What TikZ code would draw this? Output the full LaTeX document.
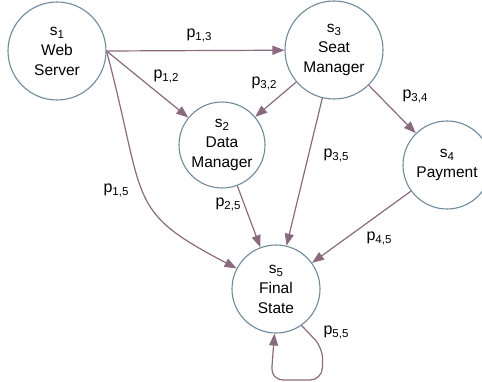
\documentclass[tikz,border=0pt]{standalone}
\usepackage{fontspec}
\setmainfont{Liberation Sans}
\usetikzlibrary{arrows.meta}
\definecolor{ring}{HTML}{6F8A9B}
\definecolor{link}{HTML}{8A6A7E}
% letter with a lowered index, e.g. s_1 or p_{1,3}
\newcommand\idx[2]{#1\raisebox{-3pt}{\fontsize{11.5}{11.5}\selectfont #2}}
\begin{document}
\begin{tikzpicture}[x=1pt,y=-1pt,
  state/.style={circle, draw=ring, fill=white, line width=1.1pt, inner sep=0pt,
    align=center, font=\fontsize{15.5}{20}\selectfont},
  trans/.style={draw=link, line width=1.2pt, -{Triangle[length=12pt,width=9pt]}},
  plabel/.style={font=\fontsize{16}{16}\selectfont, inner sep=0pt}]
\useasboundingbox (0,0) rectangle (482,382);

% states
\node[state, minimum size=98pt] (s1) at (57,51)   {\idx{s}{1}\\Web\\Server};
\node[state, minimum size=86pt] (s2) at (222,145) {\idx{s}{2}\\Data\\Manager};
\node[state, minimum size=98pt] (s3) at (334,50)  {\idx{s}{3}\\Seat\\Manager};
\node[state, minimum size=88pt] (s4) at (447,165) {\idx{s}{4}\\Payment};
\node[state, minimum size=88pt] (s5) at (276,289) {\idx{s}{5}\\Final\\State};

% transitions
\draw[trans] (s1.east) -- (s3);
\draw[trans] (s1.east) -- (s2);
\draw[trans] (s1.east) .. controls (147,204) and (125,210) .. (s5);
\draw[trans] (s3) -- (s2);
\draw[trans] (s3) -- (s4);
\draw[trans] (s3) -- (s5);
\draw[trans] (s2) -- (s5);
\draw[trans] (s4) -- (s5);
\draw[trans, rounded corners=12pt] (s5.-55) -- (323,348) -- (322,380) -- (271,380) -- (s5.-92);

% transition probabilities
\node[plabel] (l13) at (199,35)  {\idx{p}{1,3}};
\node[plabel] (l12) at (166,76)  {\idx{p}{1,2}};
\node[plabel] (l32) at (264,83)  {\idx{p}{3,2}};
\node[plabel] (l34) at (415,96)  {\idx{p}{3,4}};
\node[plabel] (l35) at (336,155) {\idx{p}{3,5}};
\node[plabel] (l15) at (116,190) {\idx{p}{1,5}};
\node[plabel] (l25) at (228,204) {\idx{p}{2,5}};
\node[plabel] (l45) at (379,238) {\idx{p}{4,5}};
\node[plabel] (l55) at (336,332) {\idx{p}{5,5}};
\end{tikzpicture}
\end{document}
